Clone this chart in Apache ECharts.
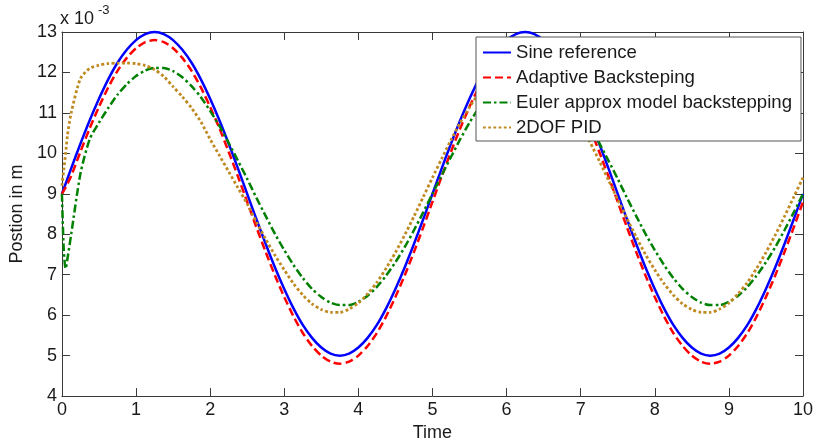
<!DOCTYPE html>
<html>
<head>
<meta charset="utf-8">
<script src="https://cdn.jsdelivr.net/npm/echarts@6/dist/echarts.min.js"></script>
<style>
html,body{margin:0;padding:0;background:#fff;}
#chart{width:816px;height:447px;}
</style>
</head>
<body>
<div id="chart"></div>
<script>
var time = [0,0.025,0.05,0.075,0.125,0.25,0.375,0.5,0.625,0.75,0.875,1,1.125,1.25,1.375,1.5,1.625,1.75,1.875,2,2.125,2.25,2.375,2.5,2.625,2.75,2.875,3,3.125,3.25,3.375,3.5,3.625,3.75,3.875,4,4.125,4.25,4.375,4.5,4.625,4.75,4.875,5,5.125,5.25,5.375,5.5,5.625,5.75,5.875,6,6.125,6.25,6.375,6.5,6.625,6.75,6.875,7,7.125,7.25,7.375,7.5,7.625,7.75,7.875,8,8.125,8.25,8.375,8.5,8.625,8.75,8.875,9,9.125,9.25,9.375,9.5,9.625,9.75,9.875,10];

var sineRef = [9.00,9.13,9.25,9.38,
 9.63,10.24,10.82,11.35,11.83,12.24,12.56,12.80,12.95,
 13.00,12.95,12.80,12.56,12.24,11.83,11.35,10.82,10.24,9.63,
 9.00,8.37,7.76,7.18,6.65,6.17,5.76,5.44,5.20,5.05,
 5.00,5.05,5.20,5.44,5.76,6.17,6.65,7.18,7.76,8.37,
 9.00,9.63,10.24,10.82,11.35,11.83,12.24,12.56,12.80,12.95,
 13.00,12.95,12.80,12.56,12.24,11.83,11.35,10.82,10.24,9.63,
 9.00,8.37,7.76,7.18,6.65,6.17,5.76,5.44,5.20,5.05,
 5.00,5.05,5.20,5.44,5.76,6.17,6.65,7.18,7.76,8.37,
 9.00];

var adaptive = [9.00,9.08,9.16,9.25,
 9.44,10.04,10.62,11.15,11.63,12.04,12.36,12.60,12.75,
 12.80,12.75,12.60,12.36,12.04,11.63,11.15,10.62,10.04,9.43,
 8.80,8.17,7.56,6.98,6.45,5.97,5.56,5.24,5.00,4.85,
 4.80,4.85,5.00,5.24,5.56,5.97,6.45,6.98,7.56,8.17,
 8.80,9.43,10.04,10.62,11.15,11.63,12.04,12.36,12.60,12.75,
 12.80,12.75,12.60,12.36,12.04,11.63,11.15,10.62,10.04,9.43,
 8.80,8.17,7.56,6.98,6.45,5.97,5.56,5.24,5.00,4.85,
 4.80,4.85,5.00,5.24,5.56,5.97,6.45,6.98,7.56,8.17,
 8.80];

var euler = [9.00,7.60,7.15,7.40,
 8.00,9.50,10.35,10.76,11.12,11.45,11.71,11.91,12.05,
 12.11,12.11,12.03,11.88,11.66,11.39,11.05,10.68,10.26,9.82,
 9.37,8.90,8.45,8.01,7.61,7.24,6.92,6.65,6.45,6.31,
 6.25,6.25,6.33,6.48,6.70,6.98,7.31,7.68,8.10,8.54,
 9.00,9.46,9.91,10.35,10.76,11.12,11.45,11.71,11.91,12.05,
 12.11,12.11,12.03,11.88,11.66,11.39,11.05,10.68,10.26,9.82,
 9.37,8.90,8.45,8.01,7.61,7.24,6.92,6.65,6.45,6.31,
 6.25,6.25,6.33,6.48,6.70,6.98,7.31,7.68,8.10,8.54,
 9.00];

var pid2dof = [9.20,9.60,10.00,10.45,
 11.00,11.85,12.10,12.18,12.22,12.23,12.23,12.22,12.17,
 12.07,11.90,11.65,11.40,11.12,10.78,10.35,9.95,9.55,9.15,
 8.75,8.30,7.88,7.48,7.12,6.78,6.50,6.28,6.14,6.07,
 6.07,6.15,6.30,6.53,6.81,7.16,7.55,7.98,8.44,8.92,
 9.40,9.87,10.33,10.76,11.14,11.48,11.76,11.98,12.12,12.19,
 12.19,12.11,11.96,11.73,11.45,11.10,10.71,10.28,9.82,9.34,
 8.86,8.39,7.93,7.50,7.12,6.78,6.50,6.28,6.14,6.07,
 6.07,6.15,6.30,6.53,6.81,7.16,7.55,7.98,8.44,8.92,
 9.40];

var seriesNames = ['Sine reference','Adaptive Backsteping','Euler approx model backstepping','2DOF PID'];
var xTicks = {min:0, max:10, interval:1};
var yTicks = {min:4, max:13, interval:1};

function pairs(vals){ return time.map(function(t,i){ return [t, vals[i]]; }); }

var FONT = 'Liberation Sans, Arial, sans-serif';
var AX = '#3a3a3a';
var TXT = '#1a1a1a';

function axisBase(pos, showLabel, isX){
  var t = isX ? xTicks : yTicks;
  return {
    type:'value', position: pos, min:t.min, max:t.max, interval:t.interval,
    axisLine:{show:true, onZero:false, lineStyle:{color:AX, width:1}},
    axisTick:{show:true, inside:true, length:8, lineStyle:{color:AX, width:1}},
    splitLine:{show:false},
    axisLabel:{show:showLabel, color:TXT, fontFamily:FONT, fontSize:18, margin:5},
    silent:true
  };
}

var chart = echarts.init(document.getElementById('chart'), null, {renderer:'canvas'});
var xb = axisBase('bottom', true, true);
xb.name = 'Time'; xb.nameLocation = 'middle'; xb.nameGap = 24;
xb.nameTextStyle = {color:TXT, fontFamily:FONT, fontSize:18};
var xt = axisBase('top', false, true);
var yl = axisBase('left', true, false);
yl.name = 'Postion in m'; yl.nameLocation = 'middle'; yl.nameGap = 30;
yl.nameTextStyle = {color:TXT, fontFamily:FONT, fontSize:18};
var yr = axisBase('right', false, false);

function mk(name, vals, color, type, w){
  return {
    name:name, type:'line', xAxisIndex:0, yAxisIndex:0,
    data: pairs(vals), showSymbol:false, symbol:'none', smooth:0.25,
    clip:false, animation:false,
    lineStyle:{color:color, width:w, type:type, cap:'butt'},
    itemStyle:{color:color}
  };
}

var option = {
  animation:false,
  backgroundColor:'#ffffff',
  grid:{left:59, right:12, top:32, bottom:46, containLabel:false},
  xAxis:[xb, xt],
  yAxis:[yl, yr],
  legend:{
    show:true, orient:'vertical', left:476, top:37,
    backgroundColor:'#ffffff', borderColor:'#555', borderWidth:1, borderRadius:0,
    padding:[6,9,4,6], itemGap:6, itemWidth:28, itemHeight:14,
    itemStyle:{opacity:0},
    lineStyle:{opacity:1},
    textStyle:{color:TXT, fontFamily:FONT, fontSize:18.6},
    data: seriesNames,
    selectedMode:false
  },
  series:[
    mk(seriesNames[0], sineRef, '#0000ff', 'solid', 2.5),
    mk(seriesNames[1], adaptive, '#ff0000', [8,4], 2.5),
    mk(seriesNames[2], euler, '#008000', [8,3,2.5,3], 2.5),
    mk(seriesNames[3], pid2dof, '#bf8a21', [2.8,2.4], 2.8)
  ],
  graphic:[
    {type:'text', left:60, top:10, style:{text:'x 10', fill:TXT, font:'18px '+FONT}},
    {type:'text', left:98, top:4, style:{text:'-3', fill:TXT, font:'13px '+FONT}}
  ]
};
chart.setOption(option);
</script>
</body>
</html>
